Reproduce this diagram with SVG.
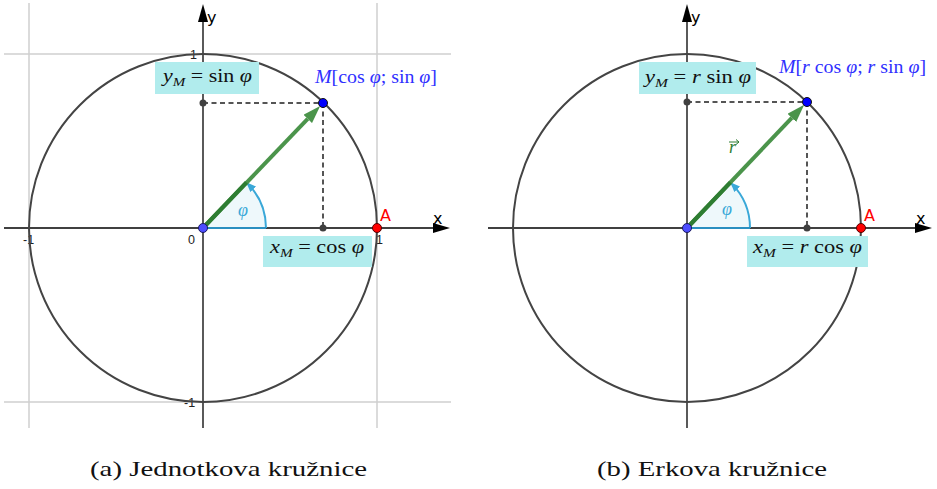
<svg xmlns="http://www.w3.org/2000/svg" width="937" height="489" viewBox="0 0 937 489">
<defs>
<style>
.grid{stroke:#cfcfcf;stroke-width:1.5;fill:none}
.axis{stroke:#000;stroke-width:1.3;fill:none}
.circ{stroke:#444;stroke-width:2;fill:none}
.dash{stroke:#555;stroke-width:2;stroke-dasharray:5,3.5;fill:none}
.sector{fill:#eef8fb;stroke:none}
.arc{stroke:#3aa8d8;stroke-width:2;fill:none}
.base{stroke:#2a8fc0;stroke-width:2.2}
.vec{stroke:#4b944b;stroke-width:4;fill:none}
.vecd{stroke:#2e7d32;stroke-width:4;fill:none}
.box{fill:#b1eced}
.tick{font-family:"Liberation Sans","DejaVu Sans",sans-serif;font-size:12.5px;fill:#222}
.axl{font-family:"DejaVu Sans","Liberation Sans",sans-serif;font-size:16px;fill:#000}
.ptl{font-family:"DejaVu Sans","Liberation Sans",sans-serif;font-size:16px;fill:#ff0000}
.math{font-family:"Liberation Serif","DejaVu Serif",serif;font-size:19px;fill:#111}
.mlab{font-family:"Liberation Serif","DejaVu Serif",serif;font-size:19px;fill:#3030ff}
.phi{font-family:"Liberation Serif","DejaVu Serif",serif;font-size:18px;font-style:italic;fill:#3aa8d8}
.cap{font-family:"Liberation Serif","DejaVu Serif",serif;font-size:22px;fill:#111}
.i{font-style:italic}
.dot{fill:#404040}
</style>
<marker id="vhead" markerUnits="userSpaceOnUse" viewBox="0 0 18 12" refX="0" refY="6" markerWidth="18" markerHeight="12" orient="auto">
<path d="M0,0 L18,6 L0,12 z" fill="#4b944b"/>
</marker>
<marker id="ahead" markerUnits="userSpaceOnUse" viewBox="0 0 10 8" refX="8" refY="4" markerWidth="10" markerHeight="8" orient="auto">
<path d="M0,0 L10,4 L0,8 z" fill="#3aa8d8"/>
</marker>
</defs>

<!-- Left diagram: grid and axes -->
<g id="left-grid">
<line class="grid" x1="29" y1="3" x2="29" y2="428"/>
<line class="grid" x1="377" y1="3" x2="377" y2="428"/>
<line class="grid" x1="4" y1="54" x2="451" y2="54"/>
<line class="grid" x1="4" y1="402" x2="451" y2="402"/>
</g>
<g id="left-axes">
<line class="axis" x1="4" y1="228" x2="436" y2="228"/>
<polygon points="433,223 450,228 433,233" fill="#000"/>
<line class="axis" x1="203" y1="428" x2="203" y2="18"/>
<polygon points="198,22 203,4 208,22" fill="#000"/>
<text class="axl" x="433" y="224">x</text>
<text class="axl" x="207" y="23">y</text>
<text class="tick" x="190" y="59">1</text>
<text class="tick" x="188" y="244">0</text>
<text class="tick" x="23" y="244">-1</text>
<text class="tick" x="376" y="244">1</text>
<text class="tick" x="184" y="407">-1</text>
</g>
<g id="left-circle">
<circle class="circ" cx="203" cy="228" r="174"/>
</g>
<g id="left-angle">
<path class="sector" d="M203,228 L266,228 A63,63 0 0 0 246.4,182.4 Z"/>
<path class="arc" d="M266,228 A63,63 0 0 0 247.6,183.6" marker-end="url(#ahead)"/>
<line class="base" x1="203" y1="228" x2="266" y2="228"/>
<text class="phi" x="238" y="216">φ</text>
</g>
<g id="left-connectors">
<line class="dash" x1="203" y1="103" x2="323" y2="103"/>
<line class="dash" x1="323" y1="103" x2="323" y2="228"/>
<line class="vec" x1="203" y1="228" x2="307.7" y2="118.9" marker-end="url(#vhead)"/>
<line class="vecd" x1="203" y1="228" x2="246.4" y2="182.4"/>
</g>
<g id="left-points">
<circle class="dot" cx="203" cy="103" r="3.5"/>
<circle class="dot" cx="323" cy="228" r="3.5"/>
<circle cx="203" cy="228" r="4.5" fill="#4d4dff" stroke="#1a1a60" stroke-width="1"/>
<circle cx="323" cy="103" r="4.5" fill="#0000ff" stroke="#111" stroke-width="1"/>
<circle cx="377" cy="228" r="4.5" fill="#ff0000" stroke="#500" stroke-width="1"/>
<text class="ptl" x="380" y="221">A</text>
</g>
<g id="left-labels">
<rect class="box" x="155" y="62" width="104" height="32"/>
<text class="math" x="163" y="82" textLength="89" lengthAdjust="spacingAndGlyphs"><tspan class="i">y</tspan><tspan class="i" font-size="13" dy="4">M</tspan><tspan dy="-4"> = sin </tspan><tspan class="i">φ</tspan></text>
<rect class="box" x="263" y="236" width="109" height="31"/>
<text class="math" x="270" y="253" textLength="94" lengthAdjust="spacingAndGlyphs"><tspan class="i">x</tspan><tspan class="i" font-size="13" dy="4">M</tspan><tspan dy="-4"> = cos </tspan><tspan class="i">φ</tspan></text>
<text class="mlab" x="315" y="83" textLength="122" lengthAdjust="spacingAndGlyphs"><tspan class="i">M</tspan>[cos <tspan class="i">φ</tspan>; sin <tspan class="i">φ</tspan>]</text>
</g>

<!-- Right diagram -->
<g id="right-axes">
<line class="axis" x1="488" y1="228" x2="918" y2="228"/>
<polygon points="915,223 932,228 915,233" fill="#000"/>
<line class="axis" x1="687" y1="428" x2="687" y2="18"/>
<polygon points="682,22 687,4 692,22" fill="#000"/>
<text class="axl" x="916" y="224">x</text>
<text class="axl" x="691" y="23">y</text>
</g>
<g id="right-circle">
<circle class="circ" cx="687" cy="228" r="174"/>
</g>
<g id="right-angle">
<path class="sector" d="M687,228 L750,228 A63,63 0 0 0 730.4,182.4 Z"/>
<path class="arc" d="M750,228 A63,63 0 0 0 731.6,183.6" marker-end="url(#ahead)"/>
<line class="base" x1="687" y1="228" x2="750" y2="228"/>
<text class="phi" x="722" y="215">φ</text>
</g>
<g id="right-connectors">
<line class="dash" x1="687" y1="102" x2="807" y2="102"/>
<line class="dash" x1="807" y1="102" x2="807" y2="228"/>
<line class="vec" x1="687" y1="228" x2="791.8" y2="117.9" marker-end="url(#vhead)"/>
<line class="vecd" x1="687" y1="228" x2="730.4" y2="182.4"/>
</g>
<g id="right-points">
<circle class="dot" cx="687" cy="102" r="3.5"/>
<circle class="dot" cx="807" cy="228" r="3.5"/>
<circle cx="687" cy="228" r="4.5" fill="#4d4dff" stroke="#1a1a60" stroke-width="1"/>
<circle cx="807" cy="102" r="4.5" fill="#0000ff" stroke="#111" stroke-width="1"/>
<circle cx="861" cy="228" r="4.5" fill="#ff0000" stroke="#500" stroke-width="1"/>
<text class="ptl" x="864" y="221">A</text>
</g>
<g id="right-labels">
<text font-family="'Liberation Serif','DejaVu Serif',serif" font-size="18" font-style="italic" fill="#2e7d32" x="729" y="153">r</text>
<path d="M729,142 L739,142 M736,139.5 L739,142 L736,144.5" stroke="#2e7d32" stroke-width="1" fill="none"/>
<rect class="box" x="639" y="62" width="117" height="32"/>
<text class="math" x="645" y="83" textLength="106" lengthAdjust="spacingAndGlyphs"><tspan class="i">y</tspan><tspan class="i" font-size="13" dy="4">M</tspan><tspan dy="-4"> = </tspan><tspan class="i">r</tspan> sin <tspan class="i">φ</tspan></text>
<rect class="box" x="747" y="236" width="121" height="31"/>
<text class="math" x="753" y="253" textLength="109" lengthAdjust="spacingAndGlyphs"><tspan class="i">x</tspan><tspan class="i" font-size="13" dy="4">M</tspan><tspan dy="-4"> = </tspan><tspan class="i">r</tspan> cos <tspan class="i">φ</tspan></text>
<text class="mlab" x="779" y="73" textLength="147" lengthAdjust="spacingAndGlyphs"><tspan class="i">M</tspan>[<tspan class="i">r</tspan> cos <tspan class="i">φ</tspan>; <tspan class="i">r</tspan> sin <tspan class="i">φ</tspan>]</text>
</g>

<g id="captions">
<text class="cap" x="90" y="476" textLength="277" lengthAdjust="spacingAndGlyphs">(a) Jednotkova kružnice</text>
<text class="cap" x="597" y="476" textLength="230" lengthAdjust="spacingAndGlyphs">(b) Erkova kružnice</text>
</g>
</svg>
